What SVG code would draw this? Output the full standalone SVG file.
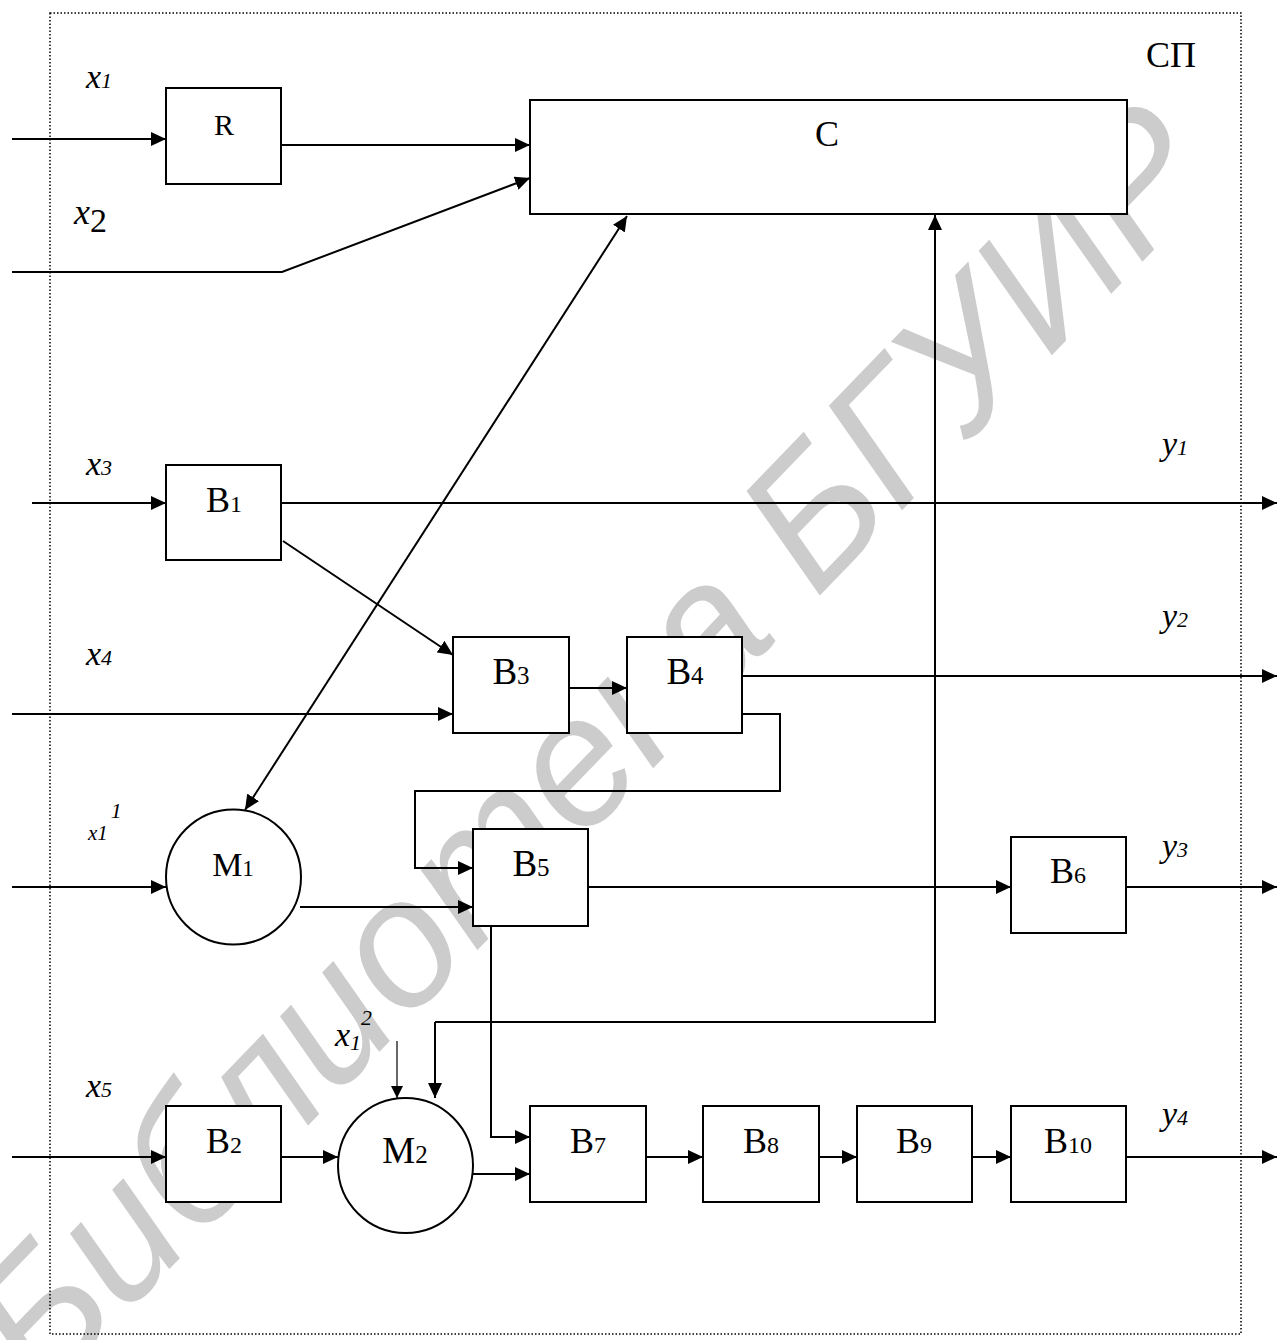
<svg xmlns="http://www.w3.org/2000/svg" width="1277" height="1340" viewBox="0 0 1277 1340">
<style>
.box{fill:#fff;stroke:#000;stroke-width:2}
.c{fill:none;stroke:#000;stroke-width:2}
.thin{fill:none;stroke:#000;stroke-width:1.2}
.t{font-family:"Liberation Serif","Times New Roman",serif;fill:#000}
.lbl{font-family:"Liberation Serif","Times New Roman",serif;font-style:italic;fill:#000}
.wm{font-family:"Liberation Sans",Arial,sans-serif;font-style:italic;fill:#cccccc}
</style>
<defs>
<marker id="a" markerUnits="userSpaceOnUse" markerWidth="16" markerHeight="14" refX="15" refY="7" orient="auto-start-reverse">
<path d="M0,0 L15,7 L0,14 z" fill="#000"/>
</marker>
<marker id="as" markerUnits="userSpaceOnUse" markerWidth="12" markerHeight="12" refX="12" refY="6" orient="auto">
<path d="M0,0 L12,6 L0,12 z" fill="#000"/>
</marker>
</defs>
<rect width="1277" height="1340" fill="#fff"/>
<text class="wm" font-size="182" transform="translate(598,756) rotate(-46)" text-anchor="middle" dominant-baseline="middle">Библиотека БГУИР</text>
<rect x="50" y="13" width="1191" height="1321" fill="none" stroke="#000" stroke-width="1.5" stroke-dasharray="1.5,2"/>
<g id="connectors">
<path class="c" d="M12,139 H166" marker-end="url(#a)"/>
<path class="c" d="M281,145 H530" marker-end="url(#a)"/>
<path class="c" d="M12,272 H282 L530,178" marker-end="url(#a)"/>
<path class="c" d="M627,216 L245,810" marker-start="url(#a)" marker-end="url(#a)"/>
<path class="c" d="M435,1022 H935 V215" marker-end="url(#a)"/>
<path class="c" d="M435,1022 V1098" marker-end="url(#a)"/>
<path class="c" d="M32,503 H166" marker-end="url(#a)"/>
<path class="c" d="M281,503 H1277" marker-end="url(#a)"/>
<path class="c" d="M283,541 L453,655" marker-end="url(#a)"/>
<path class="c" d="M12,714 H453" marker-end="url(#a)"/>
<path class="c" d="M569,688 H627" marker-end="url(#a)"/>
<path class="c" d="M742,676 H1277" marker-end="url(#a)"/>
<path class="c" d="M742,714 H780 V791 H415 V868 H473" marker-end="url(#a)"/>
<path class="c" d="M12,887 H166" marker-end="url(#a)"/>
<path class="c" d="M300,907 H473" marker-end="url(#a)"/>
<path class="c" d="M588,887 H1011" marker-end="url(#a)"/>
<path class="c" d="M1126,887 H1277" marker-end="url(#a)"/>
<path class="c" d="M491,926 V1137 H530" marker-end="url(#a)"/>
<path class="thin" d="M397,1041 V1098" marker-end="url(#as)"/>
<path class="c" d="M12,1157 H166" marker-end="url(#a)"/>
<path class="c" d="M281,1157 H338" marker-end="url(#a)"/>
<path class="c" d="M473,1174 H530" marker-end="url(#a)"/>
<path class="c" d="M646,1157 H703" marker-end="url(#a)"/>
<path class="c" d="M819,1157 H857" marker-end="url(#a)"/>
<path class="c" d="M972,1157 H1011" marker-end="url(#a)"/>
<path class="c" d="M1126,1157 H1277" marker-end="url(#a)"/>
</g>
<g id="R"><rect class="box" x="166" y="88" width="115" height="96"/><text class="t" x="224" y="135" font-size="30" text-anchor="middle">R</text></g>
<g id="C"><rect class="box" x="530" y="100" width="597" height="114"/><text class="t" x="827" y="146" font-size="36" text-anchor="middle">C</text></g>
<g id="B1"><rect class="box" x="166" y="465" width="115" height="95"/><text class="t" x="224" y="512" font-size="36" text-anchor="middle">B<tspan font-size="24">1</tspan></text></g>
<g id="B3"><rect class="box" x="453" y="637" width="116" height="96"/><text class="t" x="511" y="684" font-size="37" text-anchor="middle">B<tspan font-size="25">3</tspan></text></g>
<g id="B4"><rect class="box" x="627" y="637" width="115" height="96"/><text class="t" x="685" y="684" font-size="37" text-anchor="middle">B<tspan font-size="25">4</tspan></text></g>
<g id="M1"><circle class="box" cx="233.5" cy="877" r="67.5"/><text class="t" x="233" y="876" font-size="34" text-anchor="middle">M<tspan font-size="23">1</tspan></text></g>
<g id="B5"><rect class="box" x="473" y="829" width="115" height="97"/><text class="t" x="531" y="876" font-size="37" text-anchor="middle">B<tspan font-size="25">5</tspan></text></g>
<g id="B6"><rect class="box" x="1011" y="837" width="115" height="96"/><text class="t" x="1068" y="883" font-size="36" text-anchor="middle">B<tspan font-size="24">6</tspan></text></g>
<g id="B2"><rect class="box" x="166" y="1106" width="115" height="96"/><text class="t" x="224" y="1153" font-size="36" text-anchor="middle">B<tspan font-size="24">2</tspan></text></g>
<g id="M2"><circle class="box" cx="405.5" cy="1165.5" r="67.5"/><text class="t" x="405" y="1163" font-size="37" text-anchor="middle">M<tspan font-size="25">2</tspan></text></g>
<g id="B7"><rect class="box" x="530" y="1106" width="116" height="96"/><text class="t" x="588" y="1153" font-size="36" text-anchor="middle">B<tspan font-size="24">7</tspan></text></g>
<g id="B8"><rect class="box" x="703" y="1106" width="116" height="96"/><text class="t" x="761" y="1153" font-size="36" text-anchor="middle">B<tspan font-size="24">8</tspan></text></g>
<g id="B9"><rect class="box" x="857" y="1106" width="115" height="96"/><text class="t" x="914" y="1153" font-size="36" text-anchor="middle">B<tspan font-size="24">9</tspan></text></g>
<g id="B10"><rect class="box" x="1011" y="1106" width="115" height="96"/><text class="t" x="1068" y="1153" font-size="36" text-anchor="middle">B<tspan font-size="24">10</tspan></text></g>
<g id="labels">
<text class="t" x="1146" y="67" font-size="36">СП</text>
<text class="lbl" x="86" y="88" font-size="34">x<tspan font-size="22">1</tspan></text>
<text class="lbl" x="74" y="224" font-size="36">x<tspan font-style="normal" font-size="34" dy="8">2</tspan></text>
<text class="lbl" x="86" y="475" font-size="34">x<tspan font-size="22">3</tspan></text>
<text class="lbl" x="86" y="665" font-size="34">x<tspan font-size="22">4</tspan></text>
<text class="lbl" x="88" y="840" font-size="21">x1<tspan font-size="22" dx="3" dy="-22">1</tspan></text>
<text class="lbl" x="86" y="1097" font-size="34">x<tspan font-size="22">5</tspan></text>
<text class="lbl" x="335" y="1046" font-size="34">x<tspan font-size="22" dy="4">1</tspan><tspan font-size="22" dy="-25">2</tspan></text>
<text class="lbl" x="1162" y="455" font-size="34">y<tspan font-size="22">1</tspan></text>
<text class="lbl" x="1162" y="627" font-size="34">y<tspan font-size="22">2</tspan></text>
<text class="lbl" x="1162" y="857" font-size="34">y<tspan font-size="22">3</tspan></text>
<text class="lbl" x="1162" y="1125" font-size="34">y<tspan font-size="22">4</tspan></text>
</g>
</svg>
